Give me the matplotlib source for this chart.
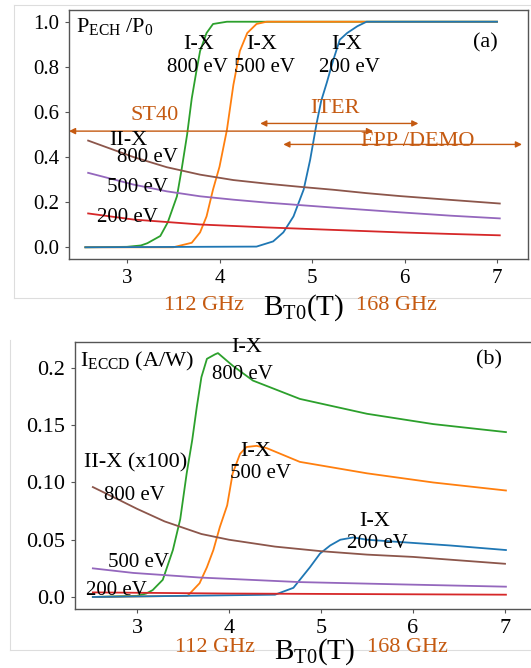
import numpy as np
import matplotlib
matplotlib.use("Agg")
import matplotlib.pyplot as plt
from matplotlib.lines import Line2D

plt.rcParams['font.family'] = ['Liberation Serif', 'DejaVu Serif']
plt.rcParams['mathtext.fontset'] = 'custom'
plt.rcParams['mathtext.rm'] = 'Liberation Serif'
plt.rcParams['mathtext.it'] = 'Liberation Serif:italic'

# --- (a) absorbed fraction P_ECH/P0 ---
a_green_x = [2.55, 3.0, 3.15, 3.22, 3.36, 3.44, 3.54, 3.59, 3.65, 3.70, 3.75, 3.79, 3.86, 3.93, 4.08, 7.0]
a_green_y = [0.0, 0.002, 0.008, 0.018, 0.05, 0.11, 0.226, 0.344, 0.50, 0.66, 0.78, 0.87, 0.95, 0.99, 1.0, 1.0]
a_orange_x = [2.55, 3.5, 3.70, 3.79, 3.86, 3.93, 4.00, 4.08, 4.15, 4.22, 4.30, 4.40, 4.51, 7.0]
a_orange_y = [0.0, 0.0, 0.02, 0.066, 0.137, 0.256, 0.357, 0.52, 0.72, 0.87, 0.95, 0.99, 1.0, 1.0]
a_blue_x = [2.55, 4.40, 4.58, 4.69, 4.80, 4.91, 4.98, 5.05, 5.10, 5.16, 5.23, 5.30, 5.38, 5.49, 5.59, 7.0]
a_blue_y = [0.0, 0.003, 0.026, 0.066, 0.137, 0.256, 0.388, 0.55, 0.65, 0.73, 0.83, 0.92, 0.95, 0.98, 1.0, 1.0]
a_brown_x = [2.58, 3.07, 3.43, 3.79, 4.15, 4.51, 4.87, 5.23, 5.59, 5.95, 6.5, 7.03]
a_brown_y = [0.473, 0.40, 0.355, 0.322, 0.298, 0.282, 0.268, 0.255, 0.240, 0.227, 0.210, 0.194]
a_purple_x = [2.58, 3.07, 3.43, 3.79, 4.15, 4.51, 5.23, 5.95, 6.5, 7.03]
a_purple_y = [0.33, 0.278, 0.248, 0.226, 0.211, 0.198, 0.176, 0.155, 0.140, 0.128]
a_red_x = [2.58, 3.07, 3.79, 4.51, 5.23, 5.95, 6.5, 7.03]
a_red_y = [0.150, 0.123, 0.101, 0.088, 0.077, 0.066, 0.059, 0.053]

# machine field ranges (T)
st40_range = [2.373, 5.66]
iter_range = [4.44, 6.15]
demo_range = [4.69, 7.27]

# --- (b) current drive efficiency ---
b_green_x = [2.52, 3.0, 3.10, 3.17, 3.28, 3.39, 3.47, 3.54, 3.60, 3.65, 3.70, 3.76, 3.85, 3.88, 4.04, 4.26, 4.77, 5.50, 6.22, 7.01]
b_green_y = [0.0, 0.001, 0.003, 0.006, 0.015, 0.041, 0.068, 0.108, 0.137, 0.166, 0.192, 0.208, 0.212, 0.213, 0.202, 0.189, 0.173, 0.160, 0.151, 0.144]
b_orange_x = [2.52, 3.55, 3.68, 3.76, 3.83, 3.90, 3.98, 4.04, 4.12, 4.19, 4.30, 4.41, 4.77, 5.50, 6.22, 7.01]
b_orange_y = [0.0, 0.001, 0.012, 0.026, 0.041, 0.061, 0.08, 0.108, 0.125, 0.131, 0.132, 0.130, 0.118, 0.108, 0.100, 0.093]
b_blue_x = [2.52, 4.50, 4.70, 4.77, 4.88, 4.99, 5.10, 5.21, 5.35, 5.50, 5.86, 6.40, 7.01]
b_blue_y = [0.0, 0.002, 0.008, 0.015, 0.026, 0.038, 0.045, 0.050, 0.052, 0.050, 0.048, 0.045, 0.041]
b_brown_x = [2.52, 2.8, 3.0, 3.3, 3.7, 4.0, 4.5, 5.0, 5.5, 6.0, 6.5, 7.0]
b_brown_y = [0.096, 0.085, 0.077, 0.066, 0.055, 0.050, 0.044, 0.040, 0.037, 0.035, 0.032, 0.029]
b_purple_x = [2.52, 2.96, 3.68, 4.77, 5.86, 7.01]
b_purple_y = [0.025, 0.021, 0.017, 0.013, 0.011, 0.009]
b_red_x = [2.52, 4.0, 7.01]
b_red_y = [0.004, 0.003, 0.002]

xticks = [3, 4, 5, 6, 7]
a_yticks = [0.0, 0.2, 0.4, 0.6, 0.8, 1.0]
b_yticks = [0.0, 0.05, 0.10, 0.15, 0.2]
b_yticklabels = ['0.0', '0.05', '0.10', '0.15', '0.2']

GREEN, ORANGE, BLUE = '#2ca02c', '#ff7f0e', '#1f77b4'
BROWN, PURPLE, RED = '#8c564b', '#9467bd', '#d62728'
ANNOT = '#c55a11'
SPINE = '#555555'

W, H = 531, 668
fig = plt.figure(figsize=(W / 100, H / 100), dpi=100)


def px_axes(l, t, r, b):
    return fig.add_axes([l / W, 1 - b / H, (r - l) / W, (b - t) / H])


def style(ax, fs):
    for s in ax.spines.values():
        s.set_color(SPINE)
        s.set_linewidth(1.0)
    ax.tick_params(direction='out', length=3, color=SPINE, labelsize=fs, pad=4)


# light screenshot frames
frame = '#dddddd'
for xs, ys in [([14, 14], [5, 298]), ([14, W], [5, 5]), ([14, W], [298, 298]),
               ([10, 10], [340, 650]), ([10, W], [650, 650])]:
    fig.add_artist(Line2D([x / W for x in xs], [1 - y / H for y in ys],
                          transform=fig.transFigure, color=frame, lw=0.8))

# ---------- panel (a) ----------
ax1 = px_axes(69, 10, 528, 259)
lw = 1.3
ax1.plot(a_green_x, a_green_y, color=GREEN, lw=lw)
ax1.plot(a_orange_x, a_orange_y, color=ORANGE, lw=lw)
ax1.plot(a_blue_x, a_blue_y, color=BLUE, lw=lw)
ax1.plot(a_brown_x, a_brown_y, color=BROWN, lw=lw)
ax1.plot(a_purple_x, a_purple_y, color=PURPLE, lw=lw)
ax1.plot(a_red_x, a_red_y, color=RED, lw=lw)
ax1.set_xlim(2.373, 7.335)
ax1.set_ylim(-0.052, 1.052)
ax1.set_xticks(xticks)
ax1.set_yticks(a_yticks)
ax1.set_yticklabels(['%.1f' % v for v in a_yticks])
style(ax1, 15)

arrow = dict(arrowstyle='<|-|>', color=ANNOT, lw=1.0, mutation_scale=9, shrinkA=0, shrinkB=0)
ax1.annotate('', xy=(st40_range[0], 0.515), xytext=(st40_range[1], 0.515), arrowprops=arrow, annotation_clip=False)
ax1.annotate('', xy=(iter_range[0], 0.549), xytext=(iter_range[1], 0.549), arrowprops=arrow, annotation_clip=False)
ax1.annotate('', xy=(demo_range[0], 0.456), xytext=(demo_range[1], 0.456), arrowprops=arrow, annotation_clip=False)
ax1.text(3.30, 0.586, 'ST40', color=ANNOT, fontsize=16, ha='center', va='center')
ax1.text(5.25, 0.617, 'ITER', color=ANNOT, fontsize=16, ha='center', va='center')
ax1.text(6.14, 0.467, 'FPP /DEMO', color=ANNOT, fontsize=16, ha='center', va='center')

ax1.text(2.45, 0.977, r'$\mathrm{P_{ECH}\ /P_0}$', fontsize=16, ha='left', va='center')
ax1.text(6.87, 0.906, '(a)', fontsize=16, ha='center', va='center')
for xc in [3.78, 4.46, 5.38]:
    ax1.text(xc, 0.897, 'I-X', fontsize=16, ha='center', va='center')
for xc, lab in [(3.76, '800 eV'), (4.49, '500 eV'), (5.40, '200 eV')]:
    ax1.text(xc, 0.795, lab, fontsize=15, ha='center', va='center')
ax1.text(3.02, 0.475, 'II-X', fontsize=16, ha='center', va='center')
ax1.text(3.22, 0.396, '800 eV', fontsize=15, ha='center', va='center')
ax1.text(3.11, 0.267, '500 eV', fontsize=15, ha='center', va='center')
ax1.text(3.00, 0.134, '200 eV', fontsize=15, ha='center', va='center')

fig.text(204 / W, 1 - 305 / H, '112 GHz', color=ANNOT, fontsize=16, ha='center', va='center')
fig.text(304 / W, 1 - 308 / H, r'$\mathrm{B_{T0}(T)}$', fontsize=21, ha='center', va='center')
fig.text(396 / W, 1 - 305 / H, '168 GHz', color=ANNOT, fontsize=16, ha='center', va='center')

# ---------- panel (b) ----------
ax2 = px_axes(75, 342, 535, 609)
ax2.plot(b_green_x, b_green_y, color=GREEN, lw=lw)
ax2.plot(b_orange_x, b_orange_y, color=ORANGE, lw=lw)
ax2.plot(b_blue_x, b_blue_y, color=BLUE, lw=lw)
ax2.plot(b_brown_x, b_brown_y, color=BROWN, lw=lw)
ax2.plot(b_purple_x, b_purple_y, color=PURPLE, lw=lw)
ax2.plot(b_red_x, b_red_y, color=RED, lw=lw)
ax2.set_xlim(2.326, 7.326)
ax2.set_ylim(-0.0105, 0.2227)
ax2.set_xticks(xticks)
ax2.set_yticks(b_yticks)
ax2.set_yticklabels(b_yticklabels)
style(ax2, 16)

ax2.text(2.38, 0.206, r'$\mathrm{I_{ECCD}\ (A/W)}$', fontsize=16, ha='left', va='center')
ax2.text(6.83, 0.207, '(b)', fontsize=16, ha='center', va='center')
ax2.text(4.19, 0.218, 'I-X', fontsize=16, ha='center', va='center')
ax2.text(4.15, 0.194, '800 eV', fontsize=15, ha='center', va='center')
ax2.text(4.29, 0.127, 'I-X', fontsize=16, ha='center', va='center')
ax2.text(4.34, 0.108, '500 eV', fontsize=15, ha='center', va='center')
ax2.text(5.58, 0.0655, 'I-X', fontsize=16, ha='center', va='center')
ax2.text(5.61, 0.047, '200 eV', fontsize=15, ha='center', va='center')
ax2.text(2.99, 0.117, 'II-X (x100)', fontsize=16, ha='center', va='center')
ax2.text(2.97, 0.089, '800 eV', fontsize=15, ha='center', va='center')
ax2.text(3.02, 0.030, '500 eV', fontsize=15, ha='center', va='center')
ax2.text(2.78, 0.006, '200 eV', fontsize=15, ha='center', va='center')

fig.text(215 / W, 1 - 648 / H, '112 GHz', color=ANNOT, fontsize=16, ha='center', va='center')
fig.text(315 / W, 1 - 652 / H, r'$\mathrm{B_{T0}(T)}$', fontsize=21, ha='center', va='center')
fig.text(407 / W, 1 - 648 / H, '168 GHz', color=ANNOT, fontsize=16, ha='center', va='center')

fig.savefig('out.png', dpi=100)
